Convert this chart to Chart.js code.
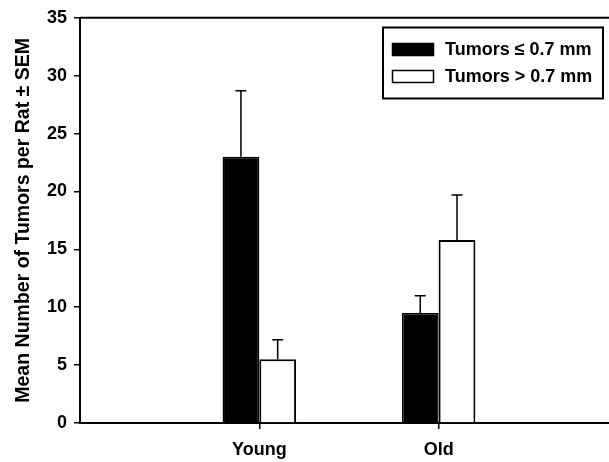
<!DOCTYPE html>
<html>
<head>
<meta charset="utf-8">
<title>Tumors per Rat</title>
<script src="https://cdn.jsdelivr.net/npm/chart.js@4.4.0/dist/chart.umd.min.js"></script>
<style>
    body { margin: 0; background: #fff; }
    #wrap { width: 609px; height: 462px; }
</style>
</head>
<body>
<div id="wrap"><canvas id="tumorChart" width="609" height="462"></canvas></div>
<script>
// Data
const groups = ['Young', 'Old'];
const seriesLabels = ['Tumors \u2264 0.7 mm', 'Tumors > 0.7 mm'];
const smallTumors = [23.0, 9.5];
const smallErr = [5.7, 1.5];
const largeTumors = [5.5, 15.8];
const largeErr = [1.7, 3.9];
const yMin = 0;
const yMax = 35;
const yStep = 5;

Chart.defaults.font.family = '"Liberation Sans", Arial, sans-serif';
Chart.defaults.font.weight = 'bold';
Chart.defaults.color = '#000';

// groups sit at 1, 2 on the x scale
function toPoints(values) {
    return values.map((v, i) => ({ x: i + 1, y: v }));
}

// Upper-only SEM whiskers
const errorBars = {
    id: 'errorBars',
    afterDatasetsDraw(chart) {
        const ctx = chart.ctx;
        const yScale = chart.scales.y;
        ctx.save();
        ctx.strokeStyle = '#000';
        ctx.lineWidth = 1.5;
        chart.data.datasets.forEach((ds, di) => {
            const meta = chart.getDatasetMeta(di);
            meta.data.forEach((bar, i) => {
                const v = ds.data[i].y;
                const top = yScale.getPixelForValue(v + ds.errors[i]);
                const base = yScale.getPixelForValue(v);
                ctx.beginPath();
                ctx.moveTo(bar.x, base);
                ctx.lineTo(bar.x, top);
                ctx.moveTo(bar.x - 5.5, top);
                ctx.lineTo(bar.x + 5.5, top);
                ctx.stroke();
            });
        });
        ctx.restore();
    }
};

// Top frame line and boxed legend inside the plot
const frameAndLegend = {
    id: 'frameAndLegend',
    afterDraw(chart) {
        const ctx = chart.ctx;
        const area = chart.chartArea;
        ctx.save();
        ctx.strokeStyle = '#000';
        ctx.lineWidth = 2;
        ctx.beginPath();
        ctx.moveTo(area.left, area.top);
        ctx.lineTo(area.right, area.top);
        ctx.stroke();

        ctx.strokeRect(383, 27.5, 220, 71);
        ctx.font = 'bold 18px "Liberation Sans", Arial, sans-serif';
        ctx.textBaseline = 'middle';
        ctx.fillStyle = '#000';
        chart.data.datasets.forEach((ds, i) => {
            const y = 43 + i * 27;
            ctx.fillStyle = ds.backgroundColor;
            ctx.fillRect(392, y, 42, 13);
            ctx.lineWidth = 1.5;
            ctx.strokeRect(392.5, y + 0.5, 41, 12);
            ctx.fillStyle = '#000';
            ctx.fillText(ds.label, 445, y + 7);
        });
        ctx.restore();
    }
};

new Chart(document.getElementById('tumorChart'), {
    type: 'bar',
    data: {
        datasets: [
            {
                label: seriesLabels[0],
                data: toPoints(smallTumors),
                errors: smallErr,
                backgroundColor: '#000',
                borderColor: '#000',
                borderWidth: 1.5
            },
            {
                label: seriesLabels[1],
                data: toPoints(largeTumors),
                errors: largeErr,
                backgroundColor: '#fff',
                borderColor: '#000',
                borderWidth: 2
            }
        ]
    },
    options: {
        responsive: false,
        animation: false,
        categoryPercentage: 0.41,
        barPercentage: 1,
        layout: { padding: { top: 13, right: 0, left: 0, bottom: 0 } },
        plugins: {
            legend: { display: false },
            tooltip: { enabled: false }
        },
        scales: {
            x: {
                type: 'linear',
                min: 0,
                max: 2.95,
                offset: false,
                afterBuildTicks: scale => {
                    scale.ticks = groups.map((g, i) => ({ value: i + 1 }));
                },
                afterFit: scale => { scale.height = 39; },
                ticks: {
                    callback: value => groups[value - 1],
                    font: { size: 18, weight: 'bold' },
                    color: '#000',
                    padding: 10,
                    maxRotation: 0
                },
                grid: {
                    offset: false,
                    drawOnChartArea: false,
                    drawTicks: true,
                    tickLength: 6,
                    color: '#000',
                    lineWidth: 1.5
                },
                border: { display: true, color: '#000', width: 2 }
            },
            y: {
                min: yMin,
                max: yMax,
                afterFit: scale => { scale.width = 80; },
                ticks: {
                    stepSize: yStep,
                    font: { size: 18, weight: 'bold' },
                    color: '#000',
                    padding: 7
                },
                grid: {
                    drawOnChartArea: false,
                    drawTicks: true,
                    tickLength: 6,
                    color: '#000',
                    lineWidth: 1.5
                },
                border: { display: true, color: '#000', width: 2 },
                title: {
                    display: true,
                    text: 'Mean Number of Tumors per Rat \u00b1 SEM',
                    font: { size: 19.5, weight: 'bold' },
                    color: '#000',
                    padding: { top: 12, bottom: 0 }
                }
            }
        }
    },
    plugins: [errorBars, frameAndLegend]
});
</script>
</body>
</html>
